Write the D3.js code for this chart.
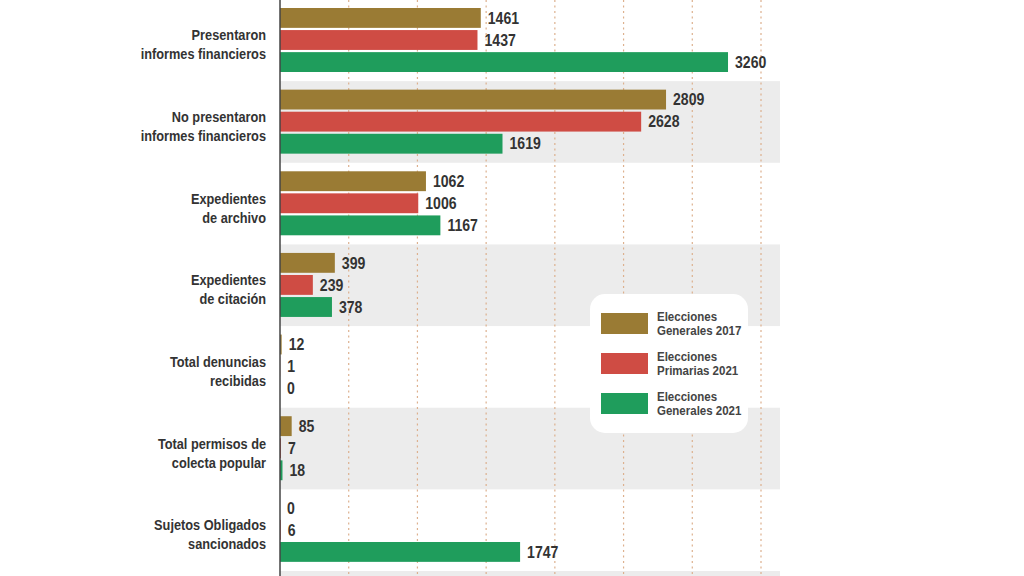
<!DOCTYPE html>
<html><head><meta charset="utf-8">
<script src="https://cdn.jsdelivr.net/npm/d3@7"></script>
<style>
html,body{margin:0;padding:0;background:#fff;}
svg{display:block;}
text{font-family:"Liberation Sans",Arial,sans-serif;font-weight:bold;fill:#333;}
</style></head>
<body>
<svg id="c" width="1024" height="576"></svg>
<script>
const categories = [
  ["Presentaron","informes financieros"],
  ["No presentaron","informes financieros"],
  ["Expedientes","de archivo"],
  ["Expedientes","de citación"],
  ["Total denuncias","recibidas"],
  ["Total permisos de","colecta popular"],
  ["Sujetos Obligados","sancionados"]
];
const seriesNames = [
  ["Elecciones","Generales 2017"],
  ["Elecciones","Primarias 2021"],
  ["Elecciones","Generales 2021"]
];
const generales2017 = [1461, 2809, 1062, 399, 12, 85, 0];
const primarias2021 = [1437, 2628, 1006, 239, 1, 7, 6];
const generales2021 = [3260, 1619, 1167, 378, 0, 18, 1747];
const gridTicks = [500, 1000, 1500, 2000, 2500, 3000, 3500];
const colors = ["#9a7b34", "#cf4c44", "#1f9d5c"];

const seriesValues = [generales2017, primarias2021, generales2021];
const svg = d3.select("#c");
const W = 1024, H = 576;
const x0 = 280;
const x = d3.scaleLinear().domain([0, 3500]).range([x0, 761]);
const catIdx = categories.map((d,i)=>i);
const y = d3.scaleBand().domain(catIdx).range([-0.5, 571]).padding(0);
const ys = d3.scaleBand().domain([0,1,2]).range([8.5, 72.5]).paddingInner(0.1);
const sx = 0.88;

// background bands
const bandRight = 780;
svg.append("g").selectAll("rect")
  .data(catIdx.filter(i => i % 2 === 1))
  .join("rect")
  .attr("x", x0).attr("width", bandRight - x0)
  .attr("y", i => y(i)).attr("height", y.bandwidth())
  .attr("fill", "#ececec");
svg.append("rect").attr("x", x0).attr("width", bandRight - x0)
  .attr("y", y.range()[1]).attr("height", H - y.range()[1]).attr("fill", "#ececec");

// gridlines
svg.append("g").selectAll("line").data(gridTicks).join("line")
  .attr("x1", d => x(d)).attr("x2", d => x(d))
  .attr("y1", 0).attr("y2", H)
  .attr("stroke", "#ddb08e").attr("stroke-width", 1.2)
  .attr("stroke-dasharray", "2,3.5");

// bars
const gRows = svg.append("g").selectAll("g").data(catIdx).join("g")
  .attr("transform", i => `translate(0,${y(i)})`);
gRows.selectAll("rect").data(i => seriesValues.map((s,k)=>({k, v:s[i]}))).join("rect")
  .attr("x", x0).attr("y", d => ys(d.k))
  .attr("width", d => x(d.v) - x0).attr("height", ys.bandwidth())
  .attr("fill", d => colors[d.k]);
gRows.selectAll("text.val").data(i => seriesValues.map((s,k)=>({k, v:s[i]}))).join("text")
  .attr("class","val")
  .attr("transform", d => `translate(${x(d.v) + 7},${ys(d.k) + ys.bandwidth()/2}) scale(${sx},1)`)
  .attr("dy", "0.36em").attr("font-size", 16)
  .text(d => d.v);

// category labels
gRows.append("text")
  .attr("transform", `translate(266,${y.bandwidth()/2}) scale(${sx},1)`)
  .attr("text-anchor", "end").attr("font-size", 14.5)
  .selectAll("tspan").data(i => categories[i]).join("tspan")
  .attr("x", 0).attr("y", (d,j) => j * 19)
  .text(d => d);

// axis line
svg.append("line").attr("x1", x0).attr("x2", x0).attr("y1", 0).attr("y2", H)
  .attr("stroke", "#444").attr("stroke-width", 1.5);

// legend
const lg = svg.append("g").attr("transform", "translate(590,294)");
lg.append("rect").attr("width", 158).attr("height", 139).attr("rx", 15)
  .attr("fill", "#fff");
const li = lg.selectAll("g").data(seriesNames).join("g")
  .attr("transform", (d,k) => `translate(11,${19 + k*40})`);
li.append("rect").attr("width", 47).attr("height", 21).attr("fill", (d,k) => colors[k]);
li.append("text").attr("transform", `translate(56,0) scale(0.9,1)`).attr("font-size", 12.8)
  .selectAll("tspan").data(d => d).join("tspan")
  .attr("x", 0).attr("y", (d,j) => 8 + j * 14.5)
  .attr("fill", "#444")
  .text(d => d);
</script>
</body></html>
